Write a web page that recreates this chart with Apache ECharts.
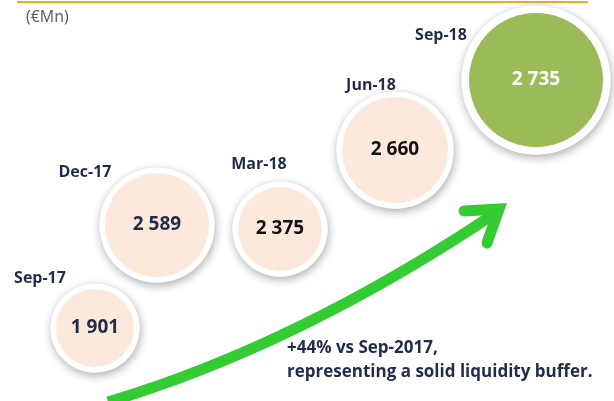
<!DOCTYPE html>
<html>
<head>
<meta charset="utf-8">
<script src="https://cdn.jsdelivr.net/npm/echarts@6/dist/echarts.min.js"></script>
<style>
  html, body { margin: 0; padding: 0; background: #fff; }
  #container { width: 614px; height: 401px; }
</style>
</head>
<body>
<div id="container"></div>
<script>
  // 数据
  const categories = ['Sep-17', 'Dec-17', 'Mar-18', 'Jun-18', 'Sep-18'];
  const values = [1901, 2589, 2375, 2660, 2735];
  const unitLabel = '(€Mn)';
  const noteLines = ['+44% vs Sep-2017,', 'representing a solid liquidity buffer.'];

  // 版面: 气泡中心 / 半径 / 日期标签位置 (像素坐标轴 0-614, 0-401)
  const bubbleX = [95, 157, 280, 395, 536];
  const bubbleY = [328, 225, 229, 150, 80];
  const bubbleR = [39, 52, 42, 53, 67];
  const tagX = [40, 85, 259, 371, 441];
  const tagY = [278, 172, 164, 85, 35];
  const fills = ['#fde9dc', '#fde9dc', '#fde9dc', '#fde9dc', '#9bbb59'];
  const valueColors = ['#1f2d4a', '#1f2d4a', '#111111', '#111111', '#ffffff'];

  const fmt = v => String(v).replace(/\B(?=(\d{3})+(?!\d))/g, ' ');
  const FONT = '"Open Sans", sans-serif';

  const myChart = echarts.init(document.getElementById('container'), null, { renderer: 'canvas' });

  // 白色外圈 (带阴影)
  const ringData = values.map((v, i) => ({
    name: categories[i],
    value: [bubbleX[i], bubbleY[i], v],
    symbolSize: (bubbleR[i] + (i === 4 ? 8 : 6)) * 2
  }));

  // 内圈 + 数值
  const bubbleData = values.map((v, i) => ({
    name: categories[i],
    value: [bubbleX[i], bubbleY[i], v],
    symbolSize: bubbleR[i] * 2,
    itemStyle: { color: fills[i] },
    label: { color: valueColors[i] }
  }));

  const tagData = categories.map((c, i) => ({ name: c, value: [tagX[i], tagY[i]] }));

  const option = {
    animation: false,
    grid: { left: 0, right: 0, top: 0, bottom: 0 },
    xAxis: { type: 'value', min: 0, max: 614, show: false },
    yAxis: { type: 'value', min: 0, max: 401, inverse: true, show: false },
    series: [
      {
        type: 'scatter',
        symbol: 'circle',
        data: ringData,
        itemStyle: {
          color: '#ffffff',
          opacity: 1,
          borderColor: 'rgba(0,0,0,0.06)',
          borderWidth: 1,
          shadowBlur: 9,
          shadowColor: 'rgba(0,0,0,0.3)',
          shadowOffsetX: 1,
          shadowOffsetY: 3
        },
        emphasis: { disabled: true }
      },
      {
        type: 'scatter',
        symbol: 'circle',
        data: bubbleData,
        itemStyle: { opacity: 1 },
        label: {
          show: true,
          position: 'inside',
          formatter: p => fmt(p.value[2]),
          fontFamily: FONT,
          fontWeight: 'bold',
          fontSize: 19,
          textBorderWidth: 0
        },
        emphasis: { disabled: true }
      },
      {
        type: 'scatter',
        symbolSize: 0,
        data: tagData,
        itemStyle: { opacity: 1 },
        label: {
          show: true,
          position: 'inside',
          formatter: '{b}',
          color: '#1f2d4a',
          fontFamily: FONT,
          fontWeight: 'bold',
          fontSize: 16,
          textBorderWidth: 0
        },
        emphasis: { disabled: true }
      }
    ],
    graphic: [
      {
        type: 'line',
        shape: { x1: 17, y1: 2, x2: 588, y2: 2 },
        style: { stroke: '#f5a623', lineWidth: 2 }
      },
      {
        type: 'text',
        left: 26,
        top: 9,
        style: { text: unitLabel, fill: '#595959', font: '16px ' + FONT }
      },
      {
        type: 'bezierCurve',
        shape: { x1: 108, y1: 402, x2: 494, y2: 214, cpx1: 298, cpy1: 345 },
        style: { stroke: '#33cc33', lineWidth: 11, fill: null }
      },
      {
        type: 'polyline',
        shape: { points: [[464, 211], [499, 209], [487, 243]] },
        style: { stroke: '#33cc33', lineWidth: 11, lineCap: 'round', lineJoin: 'miter', fill: null }
      },
      {
        type: 'text',
        left: 287,
        top: 336,
        style: {
          text: noteLines.join('\n'),
          fill: '#1f2d4a',
          font: 'bold 17px ' + FONT,
          lineHeight: 24
        }
      }
    ]
  };

  myChart.setOption(option);
  window.addEventListener('resize', () => myChart.resize());
</script>
</body>
</html>
